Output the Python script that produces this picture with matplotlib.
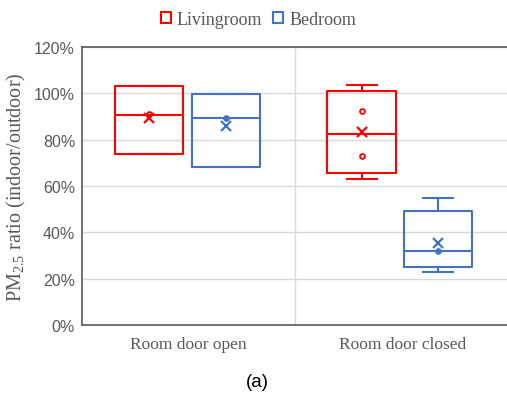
import matplotlib
matplotlib.use("Agg")
import matplotlib.pyplot as plt
from matplotlib.patches import Patch
from matplotlib.ticker import PercentFormatter

plt.rcParams.update({"mathtext.fontset": "custom",
                     "mathtext.rm": "Liberation Serif",
                     "mathtext.it": "Liberation Serif:italic"})

# ratio stats in percent, one entry per condition (door open, door closed)
conditions = ["Room door open", "Room door closed"]
living_q1   = [74.0, 65.6]
living_med  = [90.8, 82.6]
living_q3   = [103.0, 100.8]
living_lo   = [74.0, 63.2]
living_hi   = [103.0, 103.4]
living_mean = [89.2, 83.3]
living_pts  = [[91.0], [92.3, 73.1]]

bed_q1   = [68.0, 25.2]
bed_med  = [89.5, 32.0]
bed_q3   = [99.5, 49.0]
bed_lo   = [68.0, 23.0]
bed_hi   = [99.5, 54.8]
bed_mean = [85.8, 35.6]
bed_pts  = [[89.5], [32.0]]

RED, BLUE = "#FF0000", "#4472C4"
GREY_TXT = "#595959"

fig = plt.figure(figsize=(5.07, 4.06), dpi=100)
ax = fig.add_axes([0.1617, 0.197, 0.842, 0.685])

def draw_series(pos, q1, med, q3, lo, hi, mean, pts, color, hollow):
    stats = [dict(q1=a, med=b, q3=c, whislo=d, whishi=e, mean=m, fliers=[])
             for a, b, c, d, e, m in zip(q1, med, q3, lo, hi, mean)]
    lp = dict(color=color, lw=1.5)
    ax.bxp(stats, positions=pos, widths=0.32, showmeans=True, showfliers=False,
           boxprops=lp, medianprops=lp, whiskerprops=lp,
           capprops=lp, capwidths=0.14,
           meanprops=dict(marker="x", markeredgecolor=color, markersize=7,
                          markeredgewidth=1.6))
    for p, vals in zip(pos, pts):
        ax.plot([p] * len(vals), vals, ls="none", marker="o", ms=3.5,
                mfc="white" if hollow else color, mec=color, mew=1.3)

draw_series([0.315, 1.31], living_q1, living_med, living_q3, living_lo,
            living_hi, living_mean, living_pts, RED, True)
draw_series([0.674, 1.667], bed_q1, bed_med, bed_q3, bed_lo,
            bed_hi, bed_mean, bed_pts, BLUE, False)

ax.set_xlim(0, 2)
ax.set_ylim(0, 120)
ax.set_yticks(range(0, 121, 20))
ax.yaxis.set_major_formatter(PercentFormatter(decimals=0))
ax.set_xticks([0.5, 1.5])
ax.set_xticklabels(conditions, family="Liberation Serif", fontsize=12.5,
                   color=GREY_TXT)
for t in ax.get_yticklabels():
    t.set_family("Liberation Sans")
    t.set_fontsize(11.5)
    t.set_color(GREY_TXT)
ax.tick_params(length=0, pad=5)
ax.tick_params(axis="x", pad=8)

ax.grid(axis="y", color="#d9d9d9", lw=1)
ax.axvline(1, color="#d9d9d9", lw=1)
ax.set_axisbelow(True)
for s in ["left", "top", "bottom"]:
    ax.spines[s].set_color("#595959")
    ax.spines[s].set_linewidth(1.2)
ax.spines["right"].set_visible(False)

ax.set_ylabel("PM$_{2.5}$ ratio (indoor/outdoor)", family="Liberation Serif",
              fontsize=14.5, color=GREY_TXT, labelpad=4)

handles = [Patch(facecolor="white", edgecolor=RED, lw=1.5),
           Patch(facecolor="white", edgecolor=BLUE, lw=1.5)]
fig.legend(handles, ["Livingroom", "Bedroom"], loc="center",
           bbox_to_anchor=(0.51, 0.95), ncol=2, frameon=False,
           prop=dict(family="Liberation Serif", size=13), labelcolor=GREY_TXT,
           handlelength=0.55, handleheight=0.55, handletextpad=0.35,
           columnspacing=0.6)

fig.text(0.508, 0.057, "(a)", family="Liberation Sans", fontsize=13.5,
         ha="center", va="center")

fig.savefig("out.png", dpi=100, facecolor="white")
